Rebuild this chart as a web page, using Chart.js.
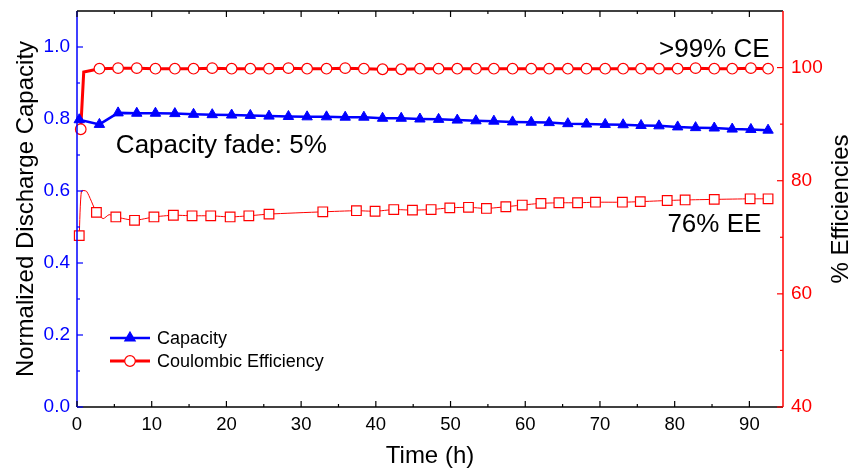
<!DOCTYPE html>
<html>
<head>
<meta charset="utf-8">
<script src="https://cdn.jsdelivr.net/npm/chart.js@4.4.0/dist/chart.umd.min.js"></script>
<style>
  body { margin: 0; background: #fff; }
  #wrap { width: 855px; height: 472px; }
</style>
</head>
<body>
<div id="wrap"><canvas id="cap_chart" width="855" height="472"></canvas></div>
<script>
// Capacity (left axis), one value per triangle marker
var capTime = [0.3, 3.0, 5.5, 8.0, 10.5, 13.1, 15.6, 18.1, 20.7, 23.2, 25.7, 28.3, 30.8, 33.4, 35.9, 38.4, 40.9, 43.4, 45.9, 48.4,
  50.9, 53.4, 55.8, 58.3, 60.8, 63.2, 65.7, 68.2, 70.7, 73.1, 75.5, 77.9, 80.4, 82.8, 85.3, 87.7, 90.2, 92.5];
var capacity = [0.798, 0.785, 0.817, 0.816, 0.816, 0.815, 0.813, 0.812, 0.811, 0.810, 0.808, 0.807, 0.806, 0.806, 0.805, 0.805, 0.802, 0.802, 0.800, 0.799,
  0.797, 0.795, 0.794, 0.792, 0.791, 0.790, 0.787, 0.786, 0.785, 0.784, 0.782, 0.781, 0.778, 0.776, 0.775, 0.772, 0.771, 0.769];

// Coulombic efficiency (right axis), circle markers
var ceTime = [0.5, 3.0, 5.5, 8.0, 10.5, 13.1, 15.6, 18.1, 20.7, 23.2, 25.7, 28.3, 30.8, 33.4, 35.9, 38.4, 40.9, 43.4, 45.9, 48.4,
  50.9, 53.4, 55.8, 58.3, 60.8, 63.2, 65.7, 68.2, 70.7, 73.1, 75.5, 77.9, 80.4, 82.8, 85.3, 87.7, 90.2, 92.5];
var ce = [89.1, 99.8, 99.9, 99.9, 99.8, 99.8, 99.8, 99.9, 99.8, 99.8, 99.8, 99.9, 99.8, 99.8, 99.9, 99.8, 99.7, 99.7, 99.8, 99.8,
  99.8, 99.8, 99.8, 99.8, 99.8, 99.8, 99.8, 99.8, 99.8, 99.8, 99.8, 99.8, 99.8, 99.9, 99.8, 99.8, 99.9, 99.8];
// points on the CE line without a marker (the jump after the first cycle)
var ceRiseTime = [0.9];
var ceRise = [99.2];

// Energy efficiency (right axis), square markers
var eeTime = [0.3, 2.6, 5.2, 7.7, 10.3, 12.9, 15.4, 17.9, 20.5, 23.0, 25.7, 32.9, 37.4, 39.9, 42.4, 44.9, 47.4, 49.9, 52.4, 54.8,
  57.4, 59.6, 62.1, 64.5, 67.0, 69.4, 73.0, 75.4, 79.0, 81.4, 85.3, 90.1, 92.5];
var ee = [70.3, 74.4, 73.6, 73.0, 73.6, 73.9, 73.8, 73.8, 73.6, 73.8, 74.1, 74.5, 74.7, 74.6, 74.9, 74.8, 74.9, 75.2, 75.3, 75.1,
  75.4, 75.7, 76.0, 76.1, 76.1, 76.2, 76.2, 76.3, 76.5, 76.6, 76.7, 76.8, 76.8];
// points on the EE line without a marker
var eeBendTime = [0.6, 1.3, 3.5, 4.3];
var eeBend = [78.2, 78.1, 73.3, 74.0];

// tick values
var xTicks = [0, 10, 20, 30, 40, 50, 60, 70, 80, 90];
var capTicks = [0.0, 0.2, 0.4, 0.6, 0.8, 1.0];
var effTicks = [40, 60, 80, 100];

var FONT = "'Liberation Sans', Arial, sans-serif";

function points(t, v, marked) {
  return t.map(function(x, i) { return {x: x, y: v[i], marked: marked}; });
}
function merged(a, b) {
  return a.concat(b).sort(function(p, q) { return p.x - q.x; });
}
function markRadius(r) {
  return function(c) { return c.raw && c.raw.marked ? r : 0; };
}
function setTicks(list) {
  return function(scale) { scale.ticks = list.map(function(v) { return {value: v}; }); };
}
function noPad(s) {
  s.paddingTop = 0; s.paddingBottom = 0; s.paddingLeft = 0; s.paddingRight = 0;
}

// draws axis lines, inward ticks, legend, right title and text notes
var framePlugin = {
  id: 'frame',
  afterDraw: function(chart) {
    var ctx = chart.ctx, a = chart.chartArea;
    var sx = chart.scales.x, sl = chart.scales.yCap, sr = chart.scales.yEff;
    ctx.save();
    ctx.lineWidth = 1.5;

    function line(x1, y1, x2, y2, col) {
      ctx.strokeStyle = col;
      ctx.beginPath(); ctx.moveTo(x1, y1); ctx.lineTo(x2, y2); ctx.stroke();
    }
    // axis lines
    line(a.left, a.bottom, a.right, a.bottom, '#000');
    line(a.left, a.top, a.right, a.top, '#000');
    line(a.left, a.top, a.left, a.bottom, '#0000ff');
    line(a.right, a.top, a.right, a.bottom, '#ff0000');

    ctx.lineWidth = 1.2;
    // x ticks, major and minor, bottom and top
    xTicks.forEach(function(v) {
      var px = sx.getPixelForValue(v);
      line(px, a.bottom, px, a.bottom - 6, '#000');
      line(px, a.top, px, a.top + 6, '#000');
      var m = v + (xTicks[1] - xTicks[0]) / 2;
      if (m < sx.max) {
        var pm = sx.getPixelForValue(m);
        line(pm, a.bottom, pm, a.bottom - 3, '#000');
        line(pm, a.top, pm, a.top + 3, '#000');
      }
    });
    capTicks.forEach(function(v) {
      var py = sl.getPixelForValue(v);
      line(a.left, py, a.left + 6, py, '#0000ff');
      var m = v + (capTicks[1] - capTicks[0]) / 2;
      if (m < sl.max - 1e-6) {
        var pm = sl.getPixelForValue(m);
        line(a.left, pm, a.left + 3, pm, '#0000ff');
      }
    });
    effTicks.forEach(function(v) {
      var py = sr.getPixelForValue(v);
      line(a.right, py, a.right - 6, py, '#ff0000');
      var m = v + (effTicks[1] - effTicks[0]) / 2;
      if (m < sr.max - 1e-6) {
        var pm = sr.getPixelForValue(m);
        line(a.right, pm, a.right - 3, pm, '#ff0000');
      }
    });

    // legend (EE is not listed)
    var items = [
      {text: 'Capacity', color: '#0000ff', fill: '#0000ff', style: 'triangle', r: 6, w: 2.5, y: 338},
      {text: 'Coulombic Efficiency', color: '#ff0000', fill: '#ffffff', style: 'circle', r: 5.3, w: 3, y: 361}
    ];
    items.forEach(function(it) {
      ctx.lineWidth = it.w;
      line(110, it.y, 150, it.y, it.color);
      ctx.fillStyle = it.fill;
      ctx.strokeStyle = it.color;
      ctx.lineWidth = 1.2;
      Chart.helpers.drawPoint(ctx, {pointStyle: it.style, radius: it.r, rotation: 0, borderWidth: 1.2}, 130, it.y);
      ctx.fillStyle = '#000';
      ctx.font = '18px ' + FONT;
      ctx.textAlign = 'left';
      ctx.textBaseline = 'middle';
      ctx.fillText(it.text, 157, it.y + 1);
    });

    // right axis title, reading bottom to top
    ctx.save();
    ctx.translate(841, (a.top + a.bottom) / 2);
    ctx.rotate(-Math.PI / 2);
    ctx.font = '24px ' + FONT;
    ctx.fillStyle = '#000';
    ctx.textAlign = 'center';
    ctx.textBaseline = 'middle';
    ctx.fillText('% Efficiencies', 0, 0);
    ctx.restore();

    // notes
    ctx.fillStyle = '#000';
    ctx.font = '26px ' + FONT;
    ctx.textBaseline = 'alphabetic';
    ctx.textAlign = 'left';
    ctx.fillText('Capacity fade: 5%', sx.getPixelForValue(5.2), sl.getPixelForValue(0.706));
    ctx.textAlign = 'right';
    ctx.fillText('>99% CE', sx.getPixelForValue(92.7), sr.getPixelForValue(101.8));
    ctx.fillText('76% EE', sx.getPixelForValue(91.6), sr.getPixelForValue(70.85));
    ctx.restore();
  }
};

var ctx1 = document.getElementById('cap_chart');
var capChart = new Chart(ctx1, {
  type: 'line',
  data: {
    datasets: [
      {
        label: 'Capacity', yAxisID: 'yCap',
        data: points(capTime, capacity, true),
        borderColor: '#0000ff', backgroundColor: '#0000ff', borderWidth: 2.5,
        pointStyle: 'triangle', pointRadius: 6, pointBorderWidth: 1,
        pointBackgroundColor: '#0000ff', tension: 0, clip: false
      },
      {
        label: 'Coulombic Efficiency', yAxisID: 'yEff',
        data: merged(points(ceTime, ce, true), points(ceRiseTime, ceRise, false)),
        borderColor: '#ff0000', borderWidth: 3,
        pointStyle: 'circle', pointRadius: markRadius(5.3), pointBorderWidth: 1.2,
        pointBackgroundColor: '#ffffff', tension: 0, clip: false
      },
      {
        label: 'Energy Efficiency', yAxisID: 'yEff',
        data: merged(points(eeTime, ee, true), points(eeBendTime, eeBend, false)),
        borderColor: '#ff0000', borderWidth: 1,
        pointStyle: 'rect', pointRadius: markRadius(6.8), pointBorderWidth: 1.2,
        pointBackgroundColor: '#ffffff', tension: 0.2, clip: false
      }
    ]
  },
  options: {
    responsive: false,
    animation: false,
    events: [],
    layout: { padding: { top: 11, left: 0, right: 0, bottom: 0 } },
    plugins: { legend: { display: false }, tooltip: { enabled: false } },
    scales: {
      x: {
        type: 'linear', position: 'bottom', min: 0, max: 94.5,
        afterBuildTicks: setTicks(xTicks),
        afterFit: function(s) { s.height = 65; noPad(s); },
        grid: { display: false, drawTicks: false },
        border: { display: false },
        ticks: { color: '#000', padding: 7, font: { family: FONT, size: 18.5 }, callback: function(v) { return String(v); } },
        title: { display: true, text: 'Time (h)', color: '#000', font: { family: FONT, size: 24, lineHeight: 1 }, padding: { top: 0, bottom: 4 } }
      },
      yCap: {
        type: 'linear', position: 'left', min: 0, max: 1.1,
        afterBuildTicks: setTicks(capTicks),
        afterFit: function(s) { s.width = 77; noPad(s); },
        grid: { display: false, drawTicks: false },
        border: { display: false },
        ticks: { color: '#0000ff', padding: 7, font: { family: FONT, size: 19 }, callback: function(v) { return v.toFixed(1); } },
        title: { display: true, text: 'Normalized Discharge Capacity', color: '#000', font: { family: FONT, size: 24, lineHeight: 1 }, padding: { top: 14, bottom: 0 } }
      },
      yEff: {
        type: 'linear', position: 'right', min: 40, max: 110,
        afterBuildTicks: setTicks(effTicks),
        afterFit: function(s) { s.width = 72; noPad(s); },
        grid: { display: false, drawTicks: false },
        border: { display: false },
        ticks: { color: '#ff0000', padding: 8, font: { family: FONT, size: 19 }, callback: function(v) { return String(v); } },
        title: { display: false }
      }
    }
  },
  plugins: [framePlugin]
});
</script>
</body>
</html>
